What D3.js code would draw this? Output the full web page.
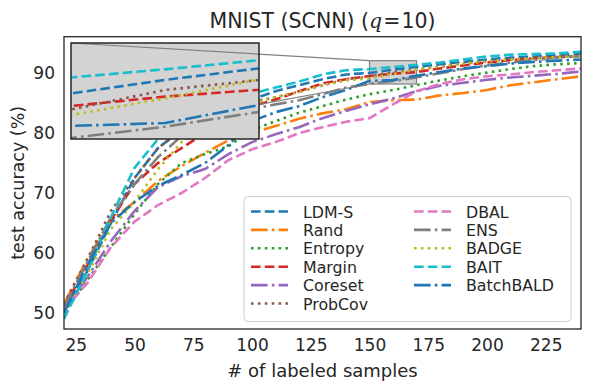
<!DOCTYPE html>
<html>
<head>
<meta charset="utf-8">
<script src="https://cdn.jsdelivr.net/npm/d3@7"></script>
<style>
  html, body { margin: 0; padding: 0; background: #fff; }
  svg { display: block; font-family: "DejaVu Sans", sans-serif; }
</style>
</head>
<body>
<svg id="chart" width="590" height="390"></svg>
<script>
// ---------- data ----------
const xValues = [20,30,40,50,60,70,80,90,100,110,120,130,140,150,160,170,180,190,200,210,220,230,240];
const seriesNames = ["LDM-S","Rand","Entropy","Margin","Coreset","ProbCov","DBAL","ENS","BADGE","BAIT","BatchBALD"];
const ldmS      = [50.5,57.0,65.0,72.5,77.5,80.5,82.5,84.0,85.6,87.0,88.0,89.0,89.8,90.05,90.6,91.07,91.5,91.9,92.3,92.6,92.8,93.0,93.2];
const rand      = [51.5,59.0,65.5,68.5,72.0,74.5,76.7,78.8,80.0,81.2,82.4,83.3,84.0,85.2,85.5,85.6,86.3,86.7,87.2,88.0,88.5,89.0,89.5];
const entropy   = [50.0,55.5,61.0,66.5,71.5,75.0,76.5,77.8,80.5,82.0,83.4,84.5,85.6,86.5,87.2,88.0,88.8,89.5,90.1,90.7,91.2,91.5,91.7];
const margin    = [51.0,58.0,65.5,71.5,75.0,77.5,80.0,82.5,84.5,85.6,87.0,88.3,89.0,89.54,89.92,90.2,90.8,91.3,91.8,92.2,92.5,92.7,92.9];
const coreset   = [50.5,56.0,62.0,67.0,71.0,72.8,74.0,76.5,78.5,79.8,81.0,82.5,83.7,84.8,85.8,87.0,87.9,88.4,88.9,89.3,89.6,89.9,90.3];
const probCov   = [51.5,59.0,67.0,72.5,77.5,80.5,82.5,84.0,85.2,86.0,86.9,88.0,89.0,89.4,90.19,90.6,91.1,91.6,92.0,92.3,92.5,92.7,92.9];
const dbal      = [50.5,55.0,61.0,65.2,68.0,70.0,72.5,75.5,77.3,78.5,80.0,81.0,81.9,82.5,84.8,87.0,88.2,89.0,89.5,89.8,90.2,90.5,90.8];
const ens       = [51.0,58.5,66.0,71.5,76.0,79.5,81.0,82.5,84.0,84.8,85.5,86.5,87.6,88.24,88.7,89.3,90.0,90.7,91.3,91.8,92.2,92.6,92.9];
const badge     = [50.0,56.5,64.0,68.5,74.0,78.5,81.0,83.0,85.0,86.0,86.9,88.0,88.8,89.17,89.85,90.62,91.1,91.6,92.0,92.3,92.5,92.7,92.9];
const bait      = [49.0,57.0,66.0,74.2,79.0,82.0,84.0,85.5,86.6,87.6,88.6,89.8,90.5,90.7,91.03,91.4,91.8,92.3,92.8,93.1,93.2,93.3,93.6];
const batchBald = [50.0,58.0,65.0,68.5,71.2,73.0,75.0,78.0,82.0,83.5,84.5,86.0,87.2,88.73,88.85,89.58,90.2,90.8,91.2,91.6,91.9,92.1,92.3];
const seriesValues = [ldmS,rand,entropy,margin,coreset,probCov,dbal,ens,badge,bait,batchBald];
const xTicks = [25,50,75,100,125,150,175,200,225];
const yTicks = [50,60,70,80,90];

// ---------- styles ----------
const colors = ["#1f77b4","#ff7f0e","#2ca02c","#d62728","#9467bd","#8c564b","#e377c2","#7f7f7f","#bcbd22","#17becf","#1f77b4"];
const styles = ["--","-.",":","--","-.",":","--","-.",":","--","-."];
const LW = 2.6;
const dashFor = s => s === "--" ? `${3.7*LW},${1.6*LW}` : s === "-." ? `${6.4*LW},${1.6*LW},${1*LW},${1.6*LW}` : `${1*LW},${1.65*LW}`;
const textColor = "#262626";

const svg = d3.select("#chart");
const m = {left: 64, right: 581, top: 36.7, bottom: 329};

const x = d3.scaleLinear().domain([20, 240]).range([m.left, m.right]);
const y = d3.scaleLinear().domain([47.3, 96.1]).range([m.bottom, m.top]);

const series = seriesNames.map((name, i) => ({
  name, color: colors[i], style: styles[i],
  pts: xValues.map((xv, j) => [xv, seriesValues[i][j]])
}));

const defs = svg.append("defs");
defs.append("clipPath").attr("id", "clipMain").append("rect")
  .attr("x", m.left).attr("y", m.top).attr("width", m.right - m.left).attr("height", m.bottom - m.top);

// zoom-region rectangle (under the lines)
const zx0 = 150, zx1 = 170, zy0 = 88.2, zy1 = 92.1;
svg.append("rect")
  .attr("x", x(zx0)).attr("y", y(zy1)).attr("width", x(zx1) - x(zx0)).attr("height", y(zy0) - y(zy1))
  .attr("fill", "#d3d3d3").attr("stroke", "#808080").attr("stroke-width", 1.2);

// main lines
const line = d3.line().x(d => x(d[0])).y(d => y(d[1]));
const gMain = svg.append("g").attr("clip-path", "url(#clipMain)");
series.forEach(s => {
  gMain.append("path").attr("d", line(s.pts)).attr("fill", "none")
    .attr("stroke", s.color).attr("stroke-width", LW).attr("stroke-dasharray", dashFor(s.style));
});

// inset
const ins = {left: 71, right: 259, top: 43, bottom: 139};
const xi = d3.scaleLinear().domain([zx0, zx1]).range([ins.left, ins.right]);
const yi = d3.scaleLinear().domain([zy0, zy1]).range([ins.bottom, ins.top]);

// connector lower-left (hidden behind inset)
svg.append("line").attr("x1", ins.left).attr("y1", ins.bottom).attr("x2", x(zx0)).attr("y2", y(zy0))
  .attr("stroke", "#808080").attr("stroke-width", 1.2);

defs.append("clipPath").attr("id", "clipInset").append("rect")
  .attr("x", ins.left).attr("y", ins.top).attr("width", ins.right - ins.left).attr("height", ins.bottom - ins.top);
svg.append("rect").attr("x", ins.left).attr("y", ins.top).attr("width", ins.right - ins.left).attr("height", ins.bottom - ins.top)
  .attr("fill", "#d3d3d3");
const lineI = d3.line().x(d => xi(d[0])).y(d => yi(d[1]));
const gIns = svg.append("g").attr("clip-path", "url(#clipInset)");
series.forEach(s => {
  gIns.append("path").attr("d", lineI(s.pts)).attr("fill", "none")
    .attr("stroke", s.color).attr("stroke-width", LW).attr("stroke-dasharray", dashFor(s.style));
});
// connector upper-left (over inset)
svg.append("line").attr("x1", ins.left).attr("y1", ins.top).attr("x2", x(zx0)).attr("y2", y(zy1))
  .attr("stroke", "#808080").attr("stroke-width", 1.2);
svg.append("rect").attr("x", ins.left).attr("y", ins.top).attr("width", ins.right - ins.left).attr("height", ins.bottom - ins.top)
  .attr("fill", "none").attr("stroke", "#262626").attr("stroke-width", 1.5);

// axes (no tick marks)
const xAxis = d3.axisBottom(x).tickValues(xTicks).tickSize(0).tickPadding(9);
const yAxis = d3.axisLeft(y).tickValues(yTicks).tickSize(0).tickPadding(9);
const gx = svg.append("g").attr("transform", `translate(0,${m.bottom})`).call(xAxis);
const gy = svg.append("g").attr("transform", `translate(${m.left},0)`).call(yAxis);
[gx, gy].forEach(g => {
  g.select(".domain").remove();
  g.selectAll("text").attr("font-size", 17).attr("fill", textColor).attr("font-family", "DejaVu Sans");
});
gx.selectAll("text").attr("dy", "0.75em");

// frame
svg.append("rect").attr("x", m.left).attr("y", m.top).attr("width", m.right - m.left).attr("height", m.bottom - m.top)
  .attr("fill", "none").attr("stroke", "#262626").attr("stroke-width", 1.3);

// labels
svg.append("text").attr("x", (m.left + m.right) / 2).attr("y", 377).attr("text-anchor", "middle")
  .attr("font-size", 18).attr("fill", textColor).text("# of labeled samples");
svg.append("text").attr("transform", `translate(24,${(m.top + m.bottom) / 2}) rotate(-90)`).attr("text-anchor", "middle")
  .attr("font-size", 17.5).attr("fill", textColor).text("test accuracy (%)");
const title = svg.append("text").attr("x", (m.left + m.right) / 2).attr("y", 28).attr("text-anchor", "middle")
  .attr("font-size", 20.5).attr("fill", textColor);
title.append("tspan").text("MNIST (SCNN) (");
title.append("tspan").attr("font-style", "italic").attr("font-family", "DejaVu Serif").text("q");
title.append("tspan").attr("dx", 1).text("=");
title.append("tspan").attr("dx", 1).text("10)");

// legend
const pitch = 18.4;
const lg = svg.append("g");
lg.append("rect").attr("x", 244).attr("y", 196.5).attr("width", 327).attr("height", 125).attr("rx", 4)
  .attr("fill", "#fff").attr("fill-opacity", 0.85).attr("stroke", "#cccccc").attr("stroke-width", 1);
series.forEach((s, i) => {
  const col = i < 6 ? 0 : 1;
  const row = i < 6 ? i : i - 6;
  const lx = col === 0 ? 251 : 414;
  const ly = 211.5 + row * pitch;
  lg.append("line").attr("x1", lx).attr("x2", lx + 37).attr("y1", ly).attr("y2", ly)
    .attr("stroke", s.color).attr("stroke-width", LW).attr("stroke-dasharray", dashFor(s.style));
  lg.append("text").attr("x", lx + 52).attr("y", ly + 6).attr("font-size", 15.8).attr("fill", textColor).text(s.name);
});
</script>
</body>
</html>
